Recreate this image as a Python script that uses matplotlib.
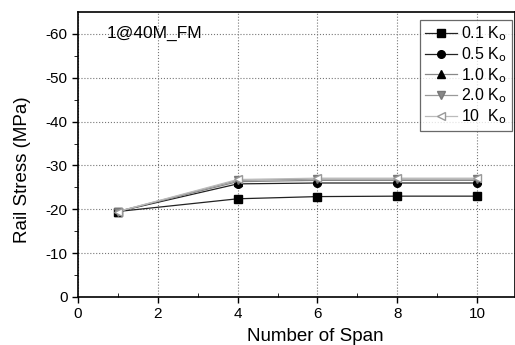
import numpy as np
import matplotlib.pyplot as plt

plt.rcParams['font.family'] = ['Liberation Sans', 'DejaVu Sans']
plt.rcParams['axes.unicode_minus'] = False

# rail stress vs number of spans, one series per stiffness ratio
spans = [1, 4, 6, 8, 10]
k01 = [-19.5, -22.4, -22.9, -23.0, -23.0]
k05 = [-19.5, -25.8, -26.0, -26.0, -26.0]
k10 = [-19.5, -26.3, -26.6, -26.6, -26.6]
k20 = [-19.5, -26.6, -26.9, -26.9, -26.9]
k100 = [-19.5, -26.8, -27.1, -27.1, -27.1]
labels = ['0.1 K$_{\\rm o}$', '0.5 K$_{\\rm o}$', '1.0 K$_{\\rm o}$',
          '2.0 K$_{\\rm o}$', '10  K$_{\\rm o}$']

fig = plt.figure(figsize=(5.15, 3.45), dpi=100)
ax = fig.add_axes([78 / 515, 48 / 345, 437 / 515, 285 / 345])

styles = [
    dict(color='#222222', marker='s', mfc='black', mec='black', ms=5.5),
    dict(color='#222222', marker='o', mfc='black', mec='black', ms=5.5),
    dict(color='#888888', marker='^', mfc='black', mec='black', ms=5.5),
    dict(color='#999999', marker='v', mfc='#888888', mec='#777777', ms=5.5),
    dict(color='#bbbbbb', marker='<', mfc='white', mec='#999999', ms=5.5),
]
for ys, lab, st in zip([k01, k05, k10, k20, k100], labels, styles):
    ax.plot(spans, ys, lw=0.9, label=lab, **st)

ax.set_xlim(0, 10.95)
ax.set_ylim(0, -65)
ax.set_xticks([0, 2, 4, 6, 8, 10])
ax.set_xticks([1, 3, 5, 7, 9], minor=True)
ax.set_yticks([0, -10, -20, -30, -40, -50, -60])
ax.set_yticks([-5, -15, -25, -35, -45, -55], minor=True)
ax.tick_params(axis='both', which='major', labelsize=11, length=4, width=1)
ax.tick_params(axis='x', which='minor', direction='in', length=3)
ax.tick_params(axis='y', which='minor', length=3)
ax.grid(True, which='major', linestyle=':', color='#777777', linewidth=0.8)
for s in ax.spines.values():
    s.set_linewidth(1.2)

ax.set_xlabel('Number of Span', fontsize=13.5)
ax.set_ylabel('Rail Stress (MPa)', fontsize=13.5)
ax.xaxis.set_label_coords(0.542, -0.11)
ax.yaxis.set_label_coords(-0.107, 0.446)
ax.text(0.72, -60.2, '1@40M_FM', fontsize=12.5, va='center', ha='left')

leg = ax.legend(loc='upper right', bbox_to_anchor=(0.993, 0.972), fontsize=11.5,
                frameon=True, fancybox=False, edgecolor='#444444',
                handlelength=2.0, handletextpad=0.3, borderpad=0.3,
                labelspacing=0.12, borderaxespad=0.0)
leg.get_frame().set_linewidth(0.9)

fig.savefig('out.png', dpi=100)
